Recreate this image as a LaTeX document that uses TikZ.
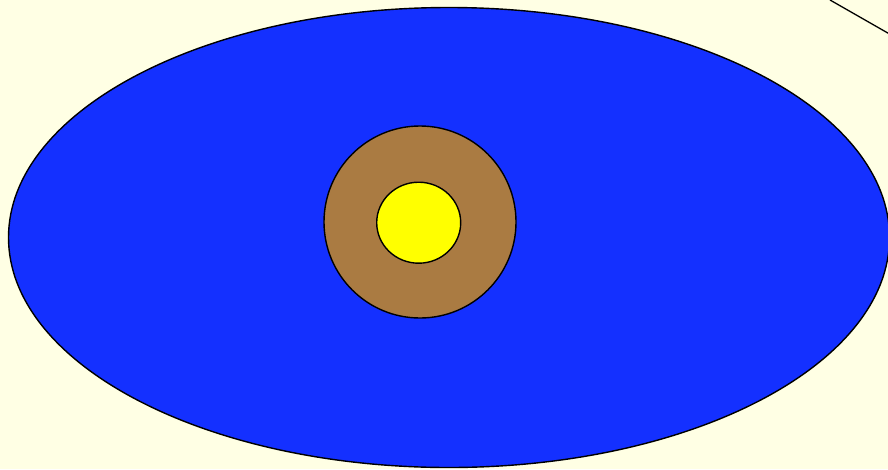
\documentclass[tikz,border=0pt]{standalone}
\usepackage{tikz}
\definecolor{bgyellow}{RGB}{255, 255, 228}
\definecolor{seablue}{RGB}{20, 48, 255}
\definecolor{mantlebrown}{RGB}{170, 123, 66}
\definecolor{coreyellow}{RGB}{255, 255, 0}

\begin{document}
\begin{tikzpicture}[x=1pt, y=-1pt, line width=1.4pt]
    % Background
    \fill[bgyellow] (0,0) rectangle (888,469);
    \useasboundingbox (0,0) rectangle (888,469);

    % Outer ellipse
    \draw[fill=seablue] (449,237.5) ellipse [x radius=440.5, y radius=230];

    % Ring
    \draw[fill=mantlebrown] (420,222) circle [radius=96];

    % Core
    \draw[fill=coreyellow] (418.7,222.7) ellipse [x radius=42, y radius=40.5];

    % Line in the corner
    \draw[line width=1.3pt] (830,0) -- (900,40);
\end{tikzpicture}
\end{document}
